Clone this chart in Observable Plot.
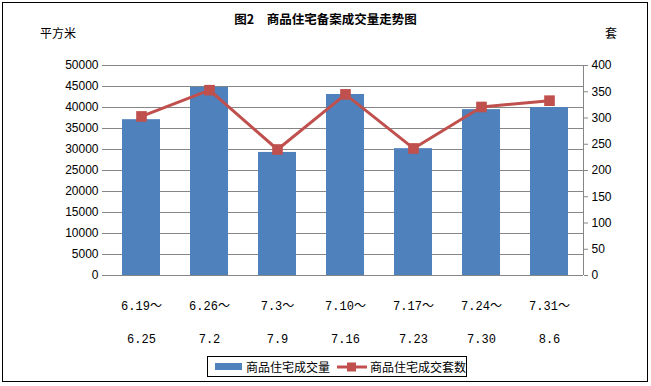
<!DOCTYPE html>
<html>
<head>
<meta charset="utf-8">
<script src="https://cdn.jsdelivr.net/npm/d3@7"></script>
<script src="https://cdn.jsdelivr.net/npm/@observablehq/plot@0.6"></script>
<style>
  html, body { margin: 0; padding: 0; background: #fff; }
  #wrap { position: relative; width: 651px; height: 386px; overflow: hidden; font-family: "Liberation Sans", "Noto Sans CJK SC", sans-serif; }
  #frame { position: absolute; left: 2px; top: 2px; border: 1.5px solid #000; box-sizing: border-box; width: 646px; height: 380px; }
  .lbl { position: absolute; font-size: 12px; color: #000; white-space: nowrap; font-family: "Noto Sans CJK SC", sans-serif; }
  #title { left: 0; width: 651px; text-align: center; top: 9px; font-weight: bold; font-size: 12.5px; }
  #legend { position: absolute; left: 207px; top: 356px; width: 260px; height: 21px; border: 1px solid #000; box-sizing: border-box; display: flex; align-items: center; font-size: 12px; font-family: "Noto Sans CJK SC", sans-serif; }
  #legend .sw { display: inline-block; }
  #chart svg { position: absolute; left: 0; top: 0; }
</style>
</head>
<body>
<div id="wrap">
  <div id="chart"></div>
  <div id="frame"></div>
  <div class="lbl" id="title">图2　商品住宅备案成交量走势图</div>
  <div class="lbl" style="left:40px;top:24px;">平方米</div>
  <div class="lbl" style="left:605px;top:24px;">套</div>
  <div id="legend"></div>
</div>
<script>
const categories = ["6.19～\n6.25", "6.26～\n7.2", "7.3～\n7.9", "7.10～\n7.16", "7.17～\n7.23", "7.24～\n7.30", "7.31～\n8.6"];
const area = [37100, 44800, 29300, 43100, 30200, 39500, 40000];
const units = [303, 353, 240, 345, 242, 321, 333];
const leftTicks = [0, 5000, 10000, 15000, 20000, 25000, 30000, 35000, 40000, 45000, 50000];
const rightTicks = [0, 50, 100, 150, 200, 250, 300, 350, 400];
const seriesNames = ["商品住宅成交量", "商品住宅成交套数"];
const colors = ["#4F81BD", "#C0504D"];

const ratio = 50000 / 400;
const rows = categories.map((c, i) => ({cat: c, area: area[i], units: units[i], u2: units[i] * ratio}));

const plot = Plot.plot({
  width: 651,
  height: 386,
  marginTop: 65,
  marginBottom: 111,
  marginLeft: 107,
  marginRight: 68,
  style: {fontFamily: "'Liberation Sans', 'Noto Sans CJK SC', sans-serif", fontSize: "12px", color: "#000", background: "transparent"},
  x: {domain: categories, paddingInner: 0.44, paddingOuter: 0.22, align: 0.5, label: null},
  y: {domain: [0, 50000], label: null},
  marks: [
    Plot.gridY(leftTicks, {stroke: "#868686", strokeWidth: 1, strokeOpacity: 1}),
    Plot.barY(rows, {x: "cat", y: "area", fill: colors[0]}),
    Plot.ruleY([0], {stroke: "#868686"}),
    Plot.axisY(leftTicks, {anchor: "left", label: null, tickSize: 5, tickPadding: 4, stroke: "#868686", tickFormat: d => String(d), fontSize: 12, fill: "#000"}),
    Plot.axisY(rightTicks.map(v => v * ratio), {anchor: "right", label: null, tickSize: 4, tickPadding: 4, stroke: "#868686", tickFormat: d => String(Math.round(d / ratio)), fontSize: 12, fill: "#000"}),
    Plot.axisX({label: null, tickSize: 0, tickPadding: 11, lineHeight: 2.75, fontSize: 12, fill: "#000", fontFamily: "'Liberation Mono', 'Noto Sans CJK SC', monospace"}),
    Plot.lineY(rows, {x: "cat", y: "u2", stroke: colors[1], strokeWidth: 3}),
    Plot.dot(rows, {x: "cat", y: "u2", symbol: "square", r: 6, fill: colors[1], stroke: "none"})
  ]
});
document.getElementById("chart").appendChild(plot);
const svgNS = "http://www.w3.org/2000/svg";
{
  const line = document.createElementNS(svgNS, "line");
  line.setAttribute("x1", 583.5); line.setAttribute("x2", 583.5);
  line.setAttribute("y1", 65); line.setAttribute("y2", 275);
  line.setAttribute("stroke", "#868686");
  plot.appendChild(line);
}

// legend
const lg = document.getElementById("legend");
lg.innerHTML = `
  <span class="sw" style="width:27px;height:7px;background:${colors[0]};margin-left:7px;"></span>
  <span style="margin-left:4px;">${seriesNames[0]}</span>
  <svg width="30" height="12" style="position:static;margin-left:7px;"><line x1="0" x2="30" y1="6" y2="6" stroke="${colors[1]}" stroke-width="3"/><rect x="10" y="1.5" width="9" height="9" fill="${colors[1]}"/></svg>
  <span style="margin-left:3px;">${seriesNames[1]}</span>`;
</script>
</body>
</html>
